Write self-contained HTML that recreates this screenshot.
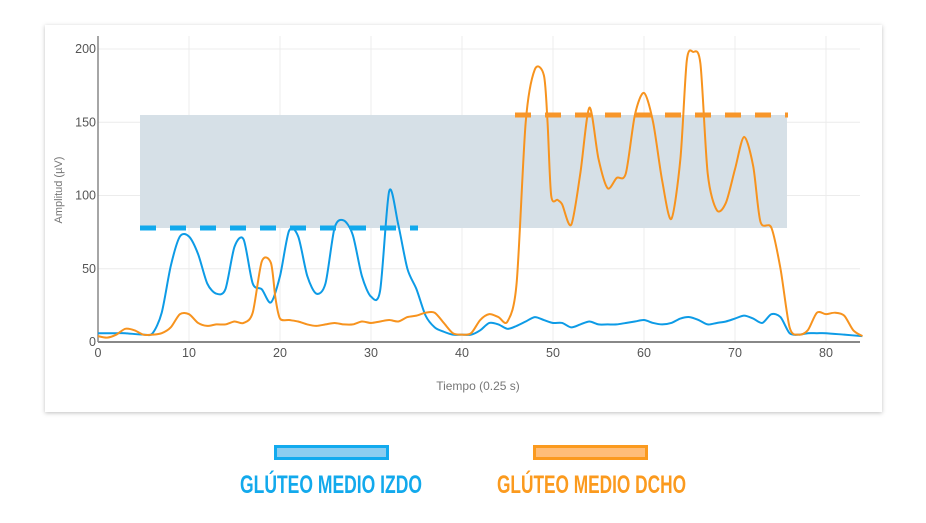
<!DOCTYPE html>
<html><head><meta charset="utf-8">
<style>
html,body{margin:0;padding:0;background:#fff;width:926px;height:523px;overflow:hidden;}
svg{display:block;}
text{font-family:"Liberation Sans",sans-serif;}
</style></head>
<body>
<svg id="s" width="926" height="523" viewBox="0 0 926 523" xmlns="http://www.w3.org/2000/svg">
<defs><filter id="sh" x="-5%" y="-5%" width="110%" height="110%"><feDropShadow dx="0" dy="1" stdDeviation="2" flood-color="#000" flood-opacity="0.25"/></filter></defs>
<rect x="45" y="25" width="837" height="387" fill="#fff" filter="url(#sh)"/>
<g id="grid" stroke="#ececec" stroke-width="1"></g>
<rect x="140" y="115" width="647" height="113" fill="#d6e0e7"/>
<g id="ticks" font-size="12.5" fill="#555"></g>
<line x1="98" y1="36" x2="98" y2="342" stroke="#888" stroke-width="1.5"/>
<line x1="98" y1="342" x2="860" y2="342" stroke="#888" stroke-width="2"/>
<text x="62" y="190" font-size="11" fill="#777" text-anchor="middle" transform="rotate(-90 62 190)">Amplitud (µV)</text>
<text x="478" y="390" font-size="12" fill="#777" text-anchor="middle">Tiempo (0.25 s)</text>
<path id="pb" fill="none" stroke="#0d9be6" stroke-width="2"/>
<path id="po" fill="none" stroke="#f7931e" stroke-width="2"/>
<line x1="140" y1="228" x2="418" y2="228" stroke="#12a9ec" stroke-width="5" stroke-dasharray="16,14"/>
<line x1="515" y1="115" x2="788" y2="115" stroke="#f7962a" stroke-width="5" stroke-dasharray="16,14"/>
<rect x="275.5" y="446.5" width="112" height="12" fill="#8ccdf0" stroke="#12aaee" stroke-width="3"/>
<rect x="534.5" y="446.5" width="112" height="12" fill="#ffbd78" stroke="#fb9a1e" stroke-width="3"/>
<text x="240" y="493" font-size="25" font-weight="bold" fill="#12a9ec" textLength="182" lengthAdjust="spacingAndGlyphs" style="font-family:'Liberation Sans Narrow','Liberation Sans',sans-serif">GLÚTEO MEDIO IZDO</text>
<text x="497" y="493" font-size="25" font-weight="bold" fill="#fb9a1e" textLength="189" lengthAdjust="spacingAndGlyphs" style="font-family:'Liberation Sans Narrow','Liberation Sans',sans-serif">GLÚTEO MEDIO DCHO</text>
</svg>
<script>
var X=function(v){return 98+v*9.1},Y=function(v){return 342-v*1.465};
var NS="http://www.w3.org/2000/svg";
var g=document.getElementById('grid'),t=document.getElementById('ticks');
function el(p,n,a,txt){var e=document.createElementNS(NS,n);for(var k in a)e.setAttribute(k,a[k]);if(txt!=null)e.textContent=txt;p.appendChild(e);}
for(var i=10;i<=80;i+=10)el(g,'line',{x1:X(i),x2:X(i),y1:36,y2:342});
for(var j=50;j<=200;j+=50)el(g,'line',{x1:98,x2:860,y1:Y(j),y2:Y(j)});
for(var i=0;i<=80;i+=10)el(t,'text',{x:X(i),y:357,'text-anchor':'middle'},i);
for(var j=0;j<=200;j+=50)el(t,'text',{x:96,y:Y(j)+4,'text-anchor':'end'},j);
function path(d){var p=d.map(function(a){return [X(a[0]),Y(a[1])]});var s='M'+p[0][0]+','+p[0][1];var k=7;
for(var i=0;i<p.length-1;i++){var p0=p[i-1]||p[i],p1=p[i],p2=p[i+1],p3=p[i+2]||p2;
s+='C'+(p1[0]+(p2[0]-p0[0])/k)+','+(p1[1]+(p2[1]-p0[1])/k)+' '+(p2[0]-(p3[0]-p1[0])/k)+','+(p2[1]-(p3[1]-p1[1])/k)+' '+p2[0]+','+p2[1];}return s;}
var b=[[0,6],[2,6],[3,6],[5,5],[6,6],[7,20],[8,52],[9,72],[10,72],[11,60],[12,40],[13,33],[14,36],[15,65],[16,70],[17,40],[18,36],[19,27],[20,45],[21,76],[22,72],[23,45],[24,33],[25,40],[26,78],[27,83],[28,73],[29,45],[30,31],[31,35],[32,103],[33,80],[34,50],[35,36],[36,18],[37,10],[38,7],[39,5],[40,5],[41,5],[42,8],[43,13],[44,12],[45,9],[46,11],[47,14],[48,17],[49,15],[50,13],[51,13],[52,10],[53,12],[54,14],[55,12],[56,12],[57,12],[58,13],[59,14],[60,15],[61,13],[62,12],[63,13],[64,16],[65,17],[66,15],[67,12],[68,13],[69,14],[70,16],[71,18],[72,16],[73,13],[74,19],[75,17],[76,6],[77,5],[78,6],[79,6],[80,6],[82,5],[84,4]];
var o=[[0,4],[1,3],[2,5],[3,9],[4,8],[5,5],[6,5],[7,6],[8,10],[9,19],[10,19],[11,13],[12,11],[13,12],[14,12],[15,14],[16,13],[17,20],[18,55],[19,54],[19.5,30],[20,16],[21,15],[22,14],[23,12],[24,11],[25,12],[26,13],[27,12],[28,12],[29,14],[30,13],[31,14],[32,15],[33,14],[34,17],[35,18],[36,20],[37,20],[38,13],[39,6],[40,5],[41,6],[42,15],[43,19],[44,17],[45,14],[46,40],[47,150],[48,186],[49,182],[49.4,150],[49.8,100],[50.5,97],[51,94],[52,80],[53,115],[54,160],[55,125],[56,105],[57,112],[58,115],[59,155],[60,170],[61,150],[62,110],[63,84],[64,125],[64.7,192],[65.4,198],[66.2,190],[67,115],[68,90],[69,95],[70,118],[71,140],[72,120],[72.8,82],[74,78],[75,50],[76,10],[77,5],[78,8],[79,20],[80,19],[81,20],[82,18],[83,8],[84,4]];
document.getElementById('pb').setAttribute('d',path(b));
document.getElementById('po').setAttribute('d',path(o));
</script>
</body></html>
